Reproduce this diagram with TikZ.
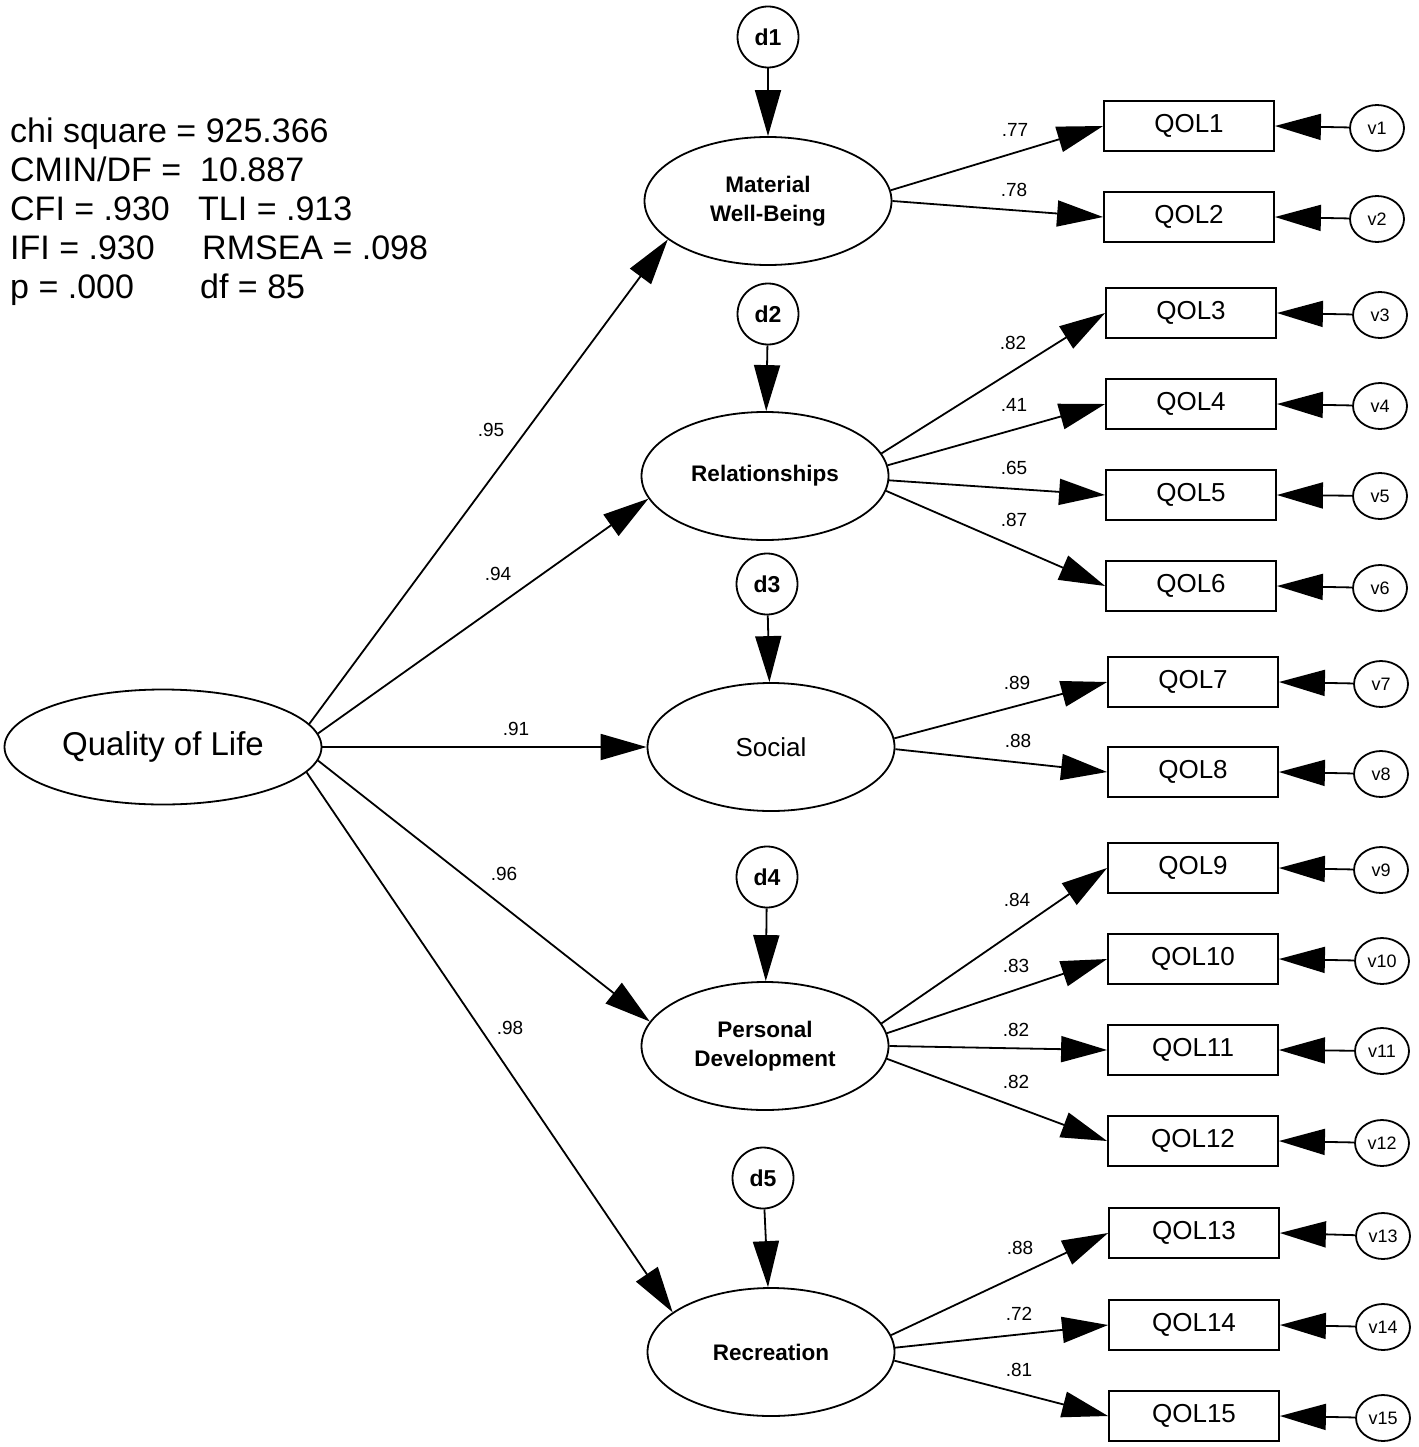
\documentclass[tikz,border=0pt]{standalone}
\usepackage{fontspec}
\setmainfont{Liberation Sans}
\usetikzlibrary{shapes.geometric,arrows.meta}
\begin{document}
\begin{tikzpicture}[x=1pt,y=-1pt,
  lat/.style={draw,ellipse,line width=1.8pt,minimum width=247pt,minimum height=128pt,inner sep=0pt,align=center,font=\fontsize{22.5}{29}\selectfont\bfseries},
  dis/.style={draw,circle,line width=1.8pt,minimum size=61pt,inner sep=0pt,font=\fontsize{23}{24}\selectfont\bfseries},
  obs/.style={draw,rectangle,line width=1.8pt,minimum width=170pt,minimum height=50pt,inner sep=0pt,font=\fontsize{26}{28}\selectfont},
  err/.style={draw,ellipse,line width=1.8pt,minimum width=54pt,minimum height=46pt,inner sep=0pt,font=\fontsize{18}{19}\selectfont},
  arr/.style={line width=1.8pt,-{Triangle[length=46pt,width=26pt]}},
  lbl/.style={font=\fontsize{19}{20}\selectfont,inner sep=0pt},
  stat/.style={font=\fontsize{34}{39}\selectfont,anchor=base west,inner sep=0pt},
]
\useasboundingbox (0,0) rectangle (1418,1447);
% fit statistics
\node[stat] (s1) at (10,143) {chi square = 925.366};
\node[stat] (s2) at (10,182) {CMIN/DF =};
\node[stat] (s3) at (200,182) {10.887};
\node[stat] (s4) at (10,221) {CFI = .930};
\node[stat] (s5) at (198,221) {TLI = .913};
\node[stat] (s6) at (10,259) {IFI = .930};
\node[stat] (s7) at (202,259) {RMSEA = .098};
\node[stat] (s8) at (10,298) {p = .000};
\node[stat] (s9) at (200,298) {df = 85};

% second-order factor
\node[draw,ellipse,line width=1.8pt,minimum width=317pt,minimum height=115pt,inner sep=0pt,font=\fontsize{33}{36}\selectfont] (qol) at (163,747) {Quality of Life};

% first-order factors
\node[lat] (mwb) at (768,201) {Material\\Well-Being};
\node[lat] (rel) at (765,476) {Relationships};
\node[lat,font=\fontsize{26}{28}\selectfont] (soc) at (771,747) {Social};
\node[lat] (pd)  at (765,1046) {Personal\\Development};
\node[lat] (rec) at (771,1352) {Recreation};

% disturbances
\node[dis] (d1) at (768,37) {d1};
\node[dis] (d2) at (768,314) {d2};
\node[dis] (d3) at (767,584) {d3};
\node[dis] (d4) at (767,877) {d4};
\node[dis] (d5) at (763,1178) {d5};

% observed
\node[obs] (q1)  at (1189,126) {QOL1};
\node[obs] (q2)  at (1189,217) {QOL2};
\node[obs] (q3)  at (1191,313) {QOL3};
\node[obs] (q4)  at (1191,404) {QOL4};
\node[obs] (q5)  at (1191,495) {QOL5};
\node[obs] (q6)  at (1191,586) {QOL6};
\node[obs] (q7)  at (1193,682) {QOL7};
\node[obs] (q8)  at (1193,772) {QOL8};
\node[obs] (q9)  at (1193,868) {QOL9};
\node[obs] (q10) at (1193,959) {QOL10};
\node[obs] (q11) at (1193,1050) {QOL11};
\node[obs] (q12) at (1193,1141) {QOL12};
\node[obs] (q13) at (1194,1233) {QOL13};
\node[obs] (q14) at (1194,1325) {QOL14};
\node[obs] (q15) at (1194,1416) {QOL15};

% errors
\node[err] (v1)  at (1377,128) {v1};
\node[err] (v2)  at (1377,219) {v2};
\node[err] (v3)  at (1380,315) {v3};
\node[err] (v4)  at (1380,406) {v4};
\node[err] (v5)  at (1380,496) {v5};
\node[err] (v6)  at (1380,588) {v6};
\node[err] (v7)  at (1381,684) {v7};
\node[err] (v8)  at (1381,774) {v8};
\node[err] (v9)  at (1381,870) {v9};
\node[err] (v10) at (1382,961) {v10};
\node[err] (v11) at (1382,1051) {v11};
\node[err] (v12) at (1382,1143) {v12};
\node[err] (v13) at (1383,1236) {v13};
\node[err] (v14) at (1383,1327) {v14};
\node[err] (v15) at (1383,1418) {v15};

% structural paths
\draw[arr] (qol.9.5) -- (mwb.201);
\draw[arr] (qol.5.5) -- (rel.191.6);
\draw[arr] (qol.0) -- (soc.180);
\draw[arr] (qol.-5.9) -- (pd.168);
\draw[arr] (qol.-10.4) -- (rec.158);

\draw[arr] (d1) -- (mwb);
\draw[arr] (d2) -- (rel);
\draw[arr] (d3) -- (soc);
\draw[arr] (d4) -- (pd);
\draw[arr] (d5) -- (rec);

% loadings
\draw[arr] (mwb.5) -- (q1.west);
\draw[arr] (mwb.-0.5) -- (q2.west);
\draw[arr] (rel.11) -- (q3.west);
\draw[arr] (rel.5) -- (q4.west);
\draw[arr] (rel.-2) -- (q5.west);
\draw[arr] (rel.-7.5) -- (q6.west);
\draw[arr] (soc.4) -- (q7.west);
\draw[arr] (soc.-1.5) -- (q8.west);
\draw[arr] (pd.11.6) -- (q9.west);
\draw[arr] (pd.6) -- (q10.west);
\draw[arr] (pd.-0.5) -- (q11.west);
\draw[arr] (pd.-6.5) -- (q12.west);
\draw[arr] (rec.8.3) -- (q13.west);
\draw[arr] (rec.2) -- (q14.west);
\draw[arr] (rec.-4.5) -- (q15.west);

% error paths
\foreach \i in {1,...,15} {\draw[arr] (v\i) -- (q\i.east);}

% labels
\node[lbl] (l1) at (491,430) {.95};
\node[lbl] (l2) at (498,574) {.94};
\node[lbl] (l3) at (516,729) {.91};
\node[lbl] (l4) at (504,874) {.96};
\node[lbl] (l5) at (510,1028) {.98};
\node[lbl] (k1) at (1015,130) {.77};
\node[lbl] (k2) at (1014,190) {.78};
\node[lbl] (k3) at (1013,343) {.82};
\node[lbl] (k4) at (1014,405) {.41};
\node[lbl] (k5) at (1014,468) {.65};
\node[lbl] (k6) at (1014,520) {.87};
\node[lbl] (k7) at (1017,683) {.89};
\node[lbl] (k8) at (1018,741) {.88};
\node[lbl] (k9) at (1017,900) {.84};
\node[lbl] (k10) at (1016,966) {.83};
\node[lbl] (k11) at (1016,1030) {.82};
\node[lbl] (k12) at (1016,1082) {.82};
\node[lbl] (k13) at (1020,1248) {.88};
\node[lbl] (k14) at (1019,1314) {.72};
\node[lbl] (k15) at (1019,1370) {.81};
\end{tikzpicture}
\end{document}
